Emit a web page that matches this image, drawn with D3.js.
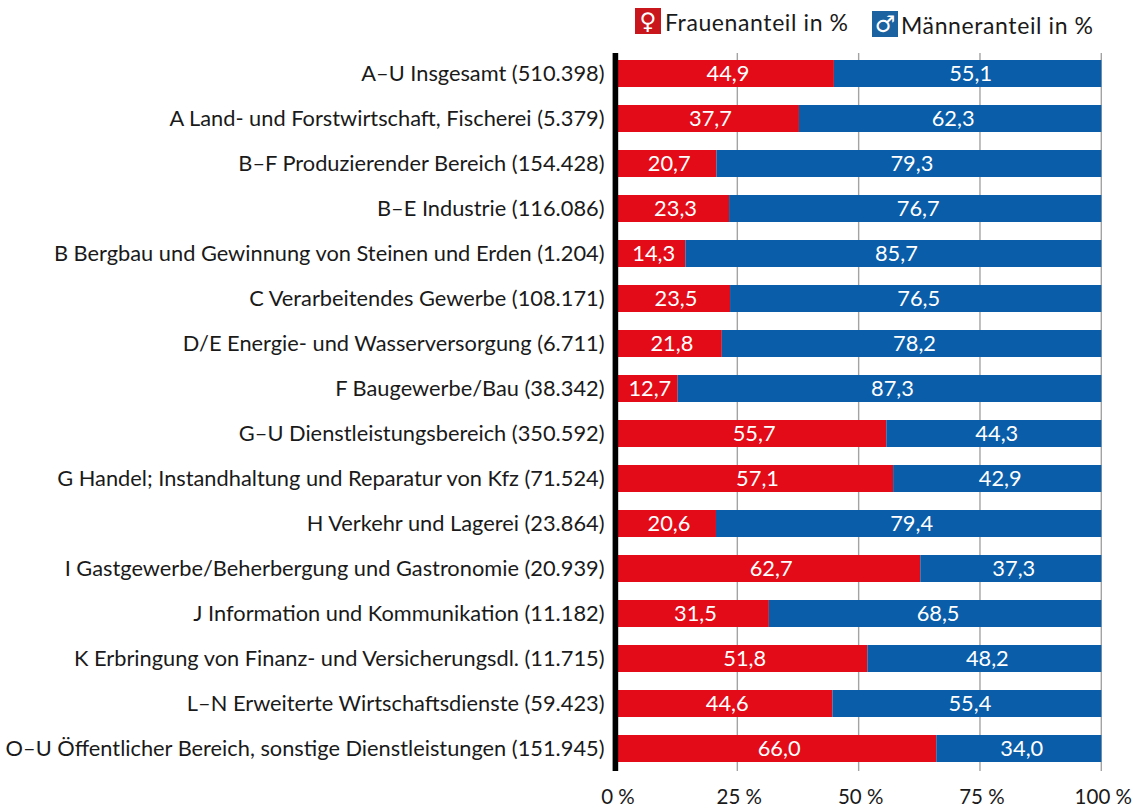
<!DOCTYPE html>
<html><head><meta charset="utf-8">
<script src="https://cdn.jsdelivr.net/npm/d3@7/dist/d3.min.js"></script>
<style>html,body{margin:0;padding:0;background:#fff}svg{display:block}text{font-family:Lato,"Open Sans",sans-serif;fill:#1a1a1a}</style>
</head><body><svg id="c" width="1135" height="810"></svg>
<script>
const categories=["A–U Insgesamt (510.398)","A Land- und Forstwirtschaft, Fischerei (5.379)","B–F Produzierender Bereich (154.428)","B–E Industrie (116.086)","B Bergbau und Gewinnung von Steinen und Erden (1.204)","C Verarbeitendes Gewerbe (108.171)","D/E Energie- und Wasserversorgung (6.711)","F Baugewerbe/Bau (38.342)","G–U Dienstleistungsbereich (350.592)","G Handel; Instandhaltung und Reparatur von Kfz (71.524)","H Verkehr und Lagerei (23.864)","I Gastgewerbe/Beherbergung und Gastronomie (20.939)","J Information und Kommunikation (11.182)","K Erbringung von Finanz- und Versicherungsdl. (11.715)","L–N Erweiterte Wirtschaftsdienste (59.423)","O–U Öffentlicher Bereich, sonstige Dienstleistungen (151.945)"];
const women=[44.9,37.7,20.7,23.3,14.3,23.5,21.8,12.7,55.7,57.1,20.6,62.7,31.5,51.8,44.6,66.0];
const men=[55.1,62.3,79.3,76.7,85.7,76.5,78.2,87.3,44.3,42.9,79.4,37.3,68.5,48.2,55.4,34.0];
const ticks=[0,25,50,75,100];
const fmt=v=>v.toFixed(1).replace(".",",");
const svg=d3.select("#c");
const FS=21.8;
const x=d3.scaleLinear().domain([0,100]).range([616,1101.3]);
const y=d3.scaleBand().domain(categories).range([51,771]).paddingInner(0.4).paddingOuter(0.2);
const gTop=53,gBottom=771;
svg.append("g").selectAll("line").data(ticks.slice(1)).join("line")
 .attr("x1",d=>x(d)).attr("x2",d=>x(d)).attr("y1",gTop).attr("y2",gBottom).attr("stroke","#a3a3a3").attr("stroke-width",1.4);
const idx=d3.range(categories.length);
svg.append("g").selectAll("rect").data(idx).join("rect").attr("x",x(0)).attr("y",i=>y(categories[i])).attr("width",i=>x(women[i])-x(0)).attr("height",y.bandwidth()).attr("fill","#e30b17");
svg.append("g").selectAll("rect").data(idx).join("rect").attr("x",i=>x(women[i])).attr("y",i=>y(categories[i])).attr("width",i=>x(100)-x(women[i])).attr("height",y.bandwidth()).attr("fill","#095da9");
const lab=(vals,pos)=>svg.append("g").selectAll("text").data(idx).join("text").attr("x",pos).attr("y",i=>y(categories[i])+y.bandwidth()/2).attr("dy","0.35em").attr("text-anchor","middle").style("fill","#fff").style("font-size",FS+"px").text(i=>fmt(vals[i]));
lab(women,i=>x(women[i]/2)+3);
lab(men,i=>x(women[i]+men[i]/2)+3);
svg.append("line").attr("x1",615.4).attr("x2",615.4).attr("y1",gTop).attr("y2",gBottom).attr("stroke","#000").attr("stroke-width",5.6);
svg.append("g").selectAll("text").data(categories).join("text").attr("x",604.5).attr("y",d=>y(d)+y.bandwidth()/2).attr("dy","0.35em").attr("text-anchor","end").style("font-size",FS+"px").text(d=>d);
svg.append("g").selectAll("text").data(ticks).join("text").attr("x",d=>x(d)+2).attr("y",797).attr("dy","0.35em").attr("text-anchor","middle").style("font-size","20.5px").text(d=>d+" %");
const legend=[["Frauenanteil in %","#c9161d","\u2640",635,8,665,23],["Männeranteil in %","#1a62a0","\u2642",872,11,901,26]];
legend.forEach(([t,c,g,lx,ly,tx,ty])=>{
 svg.append("rect").attr("x",lx).attr("y",ly).attr("width",26).attr("height",26).attr("fill",c);
 svg.append("text").attr("x",lx+13).attr("y",ly+13).attr("dy","0.35em").attr("text-anchor","middle").style("fill","#fff").style("font-family","DejaVu Sans").style("font-size","23px").text(g);
 svg.append("text").attr("x",tx).attr("y",ty).attr("dy","0.35em").style("font-size","23px").style("letter-spacing","0.6px").text(t);
});
</script></body></html>
